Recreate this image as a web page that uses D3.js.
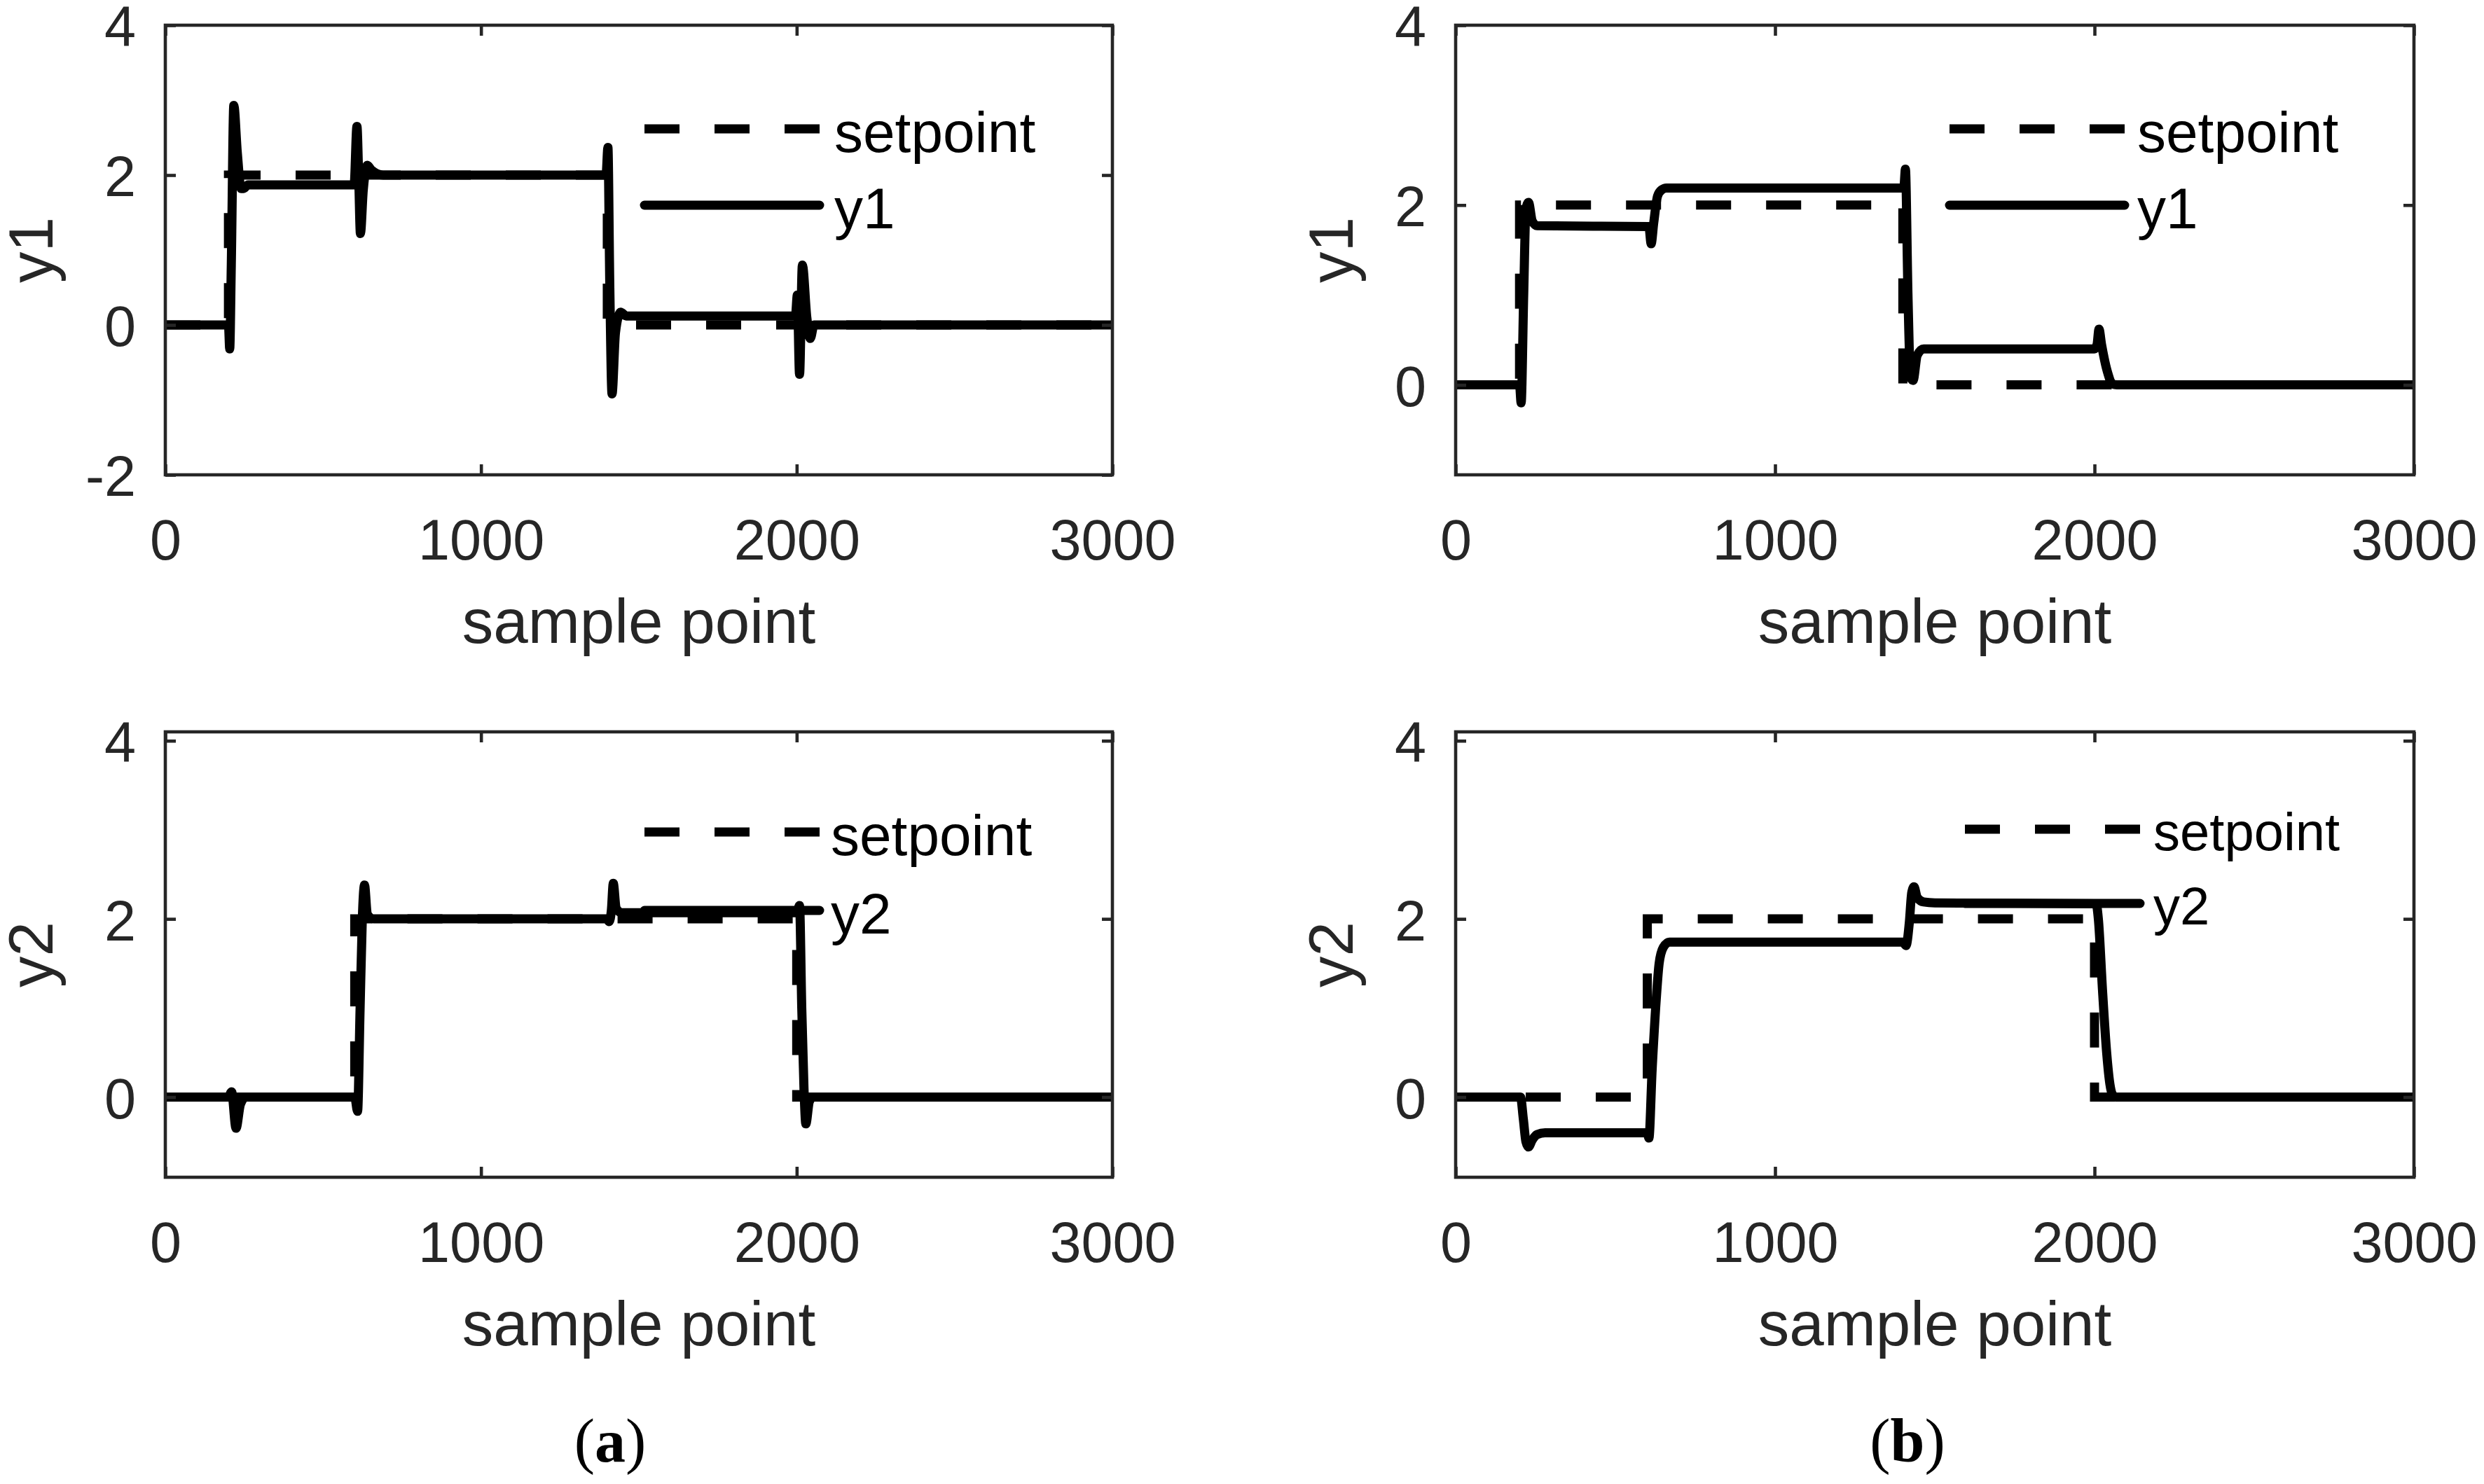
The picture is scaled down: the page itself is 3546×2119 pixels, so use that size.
<!DOCTYPE html>
<html lang="en">
  <head>
    <meta charset="utf-8" />
    <title>Setpoint tracking: y1 and y2, cases (a) and (b)</title>
    <script src="https://cdnjs.cloudflare.com/ajax/libs/d3/7.8.5/d3.min.js"></script>
    <style type="text/css">
      body {
        margin: 0;
        background: #fff;
      }

      .tick text {
        font-family: 'Liberation Sans', Arial, Helvetica, sans-serif;
        fill: #262626;
      }

      .tick line {
        stroke: #262626;
        stroke-width: 4.6;
      }

      .frame {
        fill: none;
        stroke: #262626;
        stroke-width: 4.6;
      }

      .label {
        font-family: 'Liberation Sans', Arial, Helvetica, sans-serif;
        fill: #262626;
      }

      .legend text {
        font-family: 'Liberation Sans', Arial, Helvetica, sans-serif;
        fill: #000;
      }

      .setpoint {
        fill: none;
        stroke: #000;
        stroke-width: 13;
        stroke-dasharray: 50, 50;
      }

      .output {
        fill: none;
        stroke: #000;
        stroke-width: 13;
        stroke-linejoin: round;
        stroke-linecap: round;
      }

      .caption {
        font-family: 'Liberation Serif', 'Times New Roman', serif;
        fill: #000;
      }
    </style>
  </head>

  <body>
    <script>
      // ---- data ----
      const xTicks = [0, 1000, 2000, 3000];
      const yTicksWide = [-2, 0, 2, 4];
      const yTicksNarrow = [0, 2, 4];

      // setpoints (same in both cases)
      const spSample1 = [0, 200, 200, 1400, 1400, 3000];
      const spValue1 = [0, 0, 2, 2, 0, 0];
      const spSample2 = [0, 600, 600, 2000, 2000, 3000];
      const spValue2 = [0, 0, 2, 2, 0, 0];

      // case (a), y1
      const y1aSample = [0, 200, 204, 209, 217, 228, 240, 248, 262, 598, 607, 613, 618, 627, 640, 652, 690,
        1396, 1402, 1408, 1415, 1426, 1442, 1460, 1996, 2002, 2009, 2018, 2032, 2043, 2055, 3000];
      const y1aValue = [0, 0, -0.32, 0.8, 2.93, 2.3, 1.82, 1.82, 1.87, 1.87, 2.65, 1.9, 1.22, 1.8, 2.13, 2.07, 2.0,
        2.0, 2.37, 0.5, -0.92, -0.1, 0.17, 0.12, 0.12, 0.4, -0.66, 0.8, 0.1, -0.18, 0.0, 0.0];

      // case (a), y2
      const y2aSample = [0, 200, 210, 224, 238, 255, 600, 609, 617, 624, 631, 640, 660,
        1398, 1406, 1413, 1419, 1428, 1445, 2000, 2009, 2016, 2023, 2029, 2040, 2052, 3000];
      const y2aValue = [0, 0, 0.06, -0.35, -0.08, 0, 0, -0.16, 1.0, 2.0, 2.38, 2.05, 2.0,
        2.0, 1.97, 2.1, 2.4, 2.12, 2.07, 2.07, 2.15, 1.0, 0.1, -0.3, -0.05, 0, 0];

      // case (b), y1
      const y1bSample = [0, 200, 205, 213, 220, 228, 240, 255, 605, 612, 620, 632, 645, 660,
        1403, 1408, 1416, 1424, 1432, 1445, 1465, 2000, 2008, 2014, 2022, 2040, 2056, 2070, 3000];
      const y1bValue = [0, 0, -0.2, 1.0, 1.95, 2.03, 1.82, 1.77, 1.76, 1.57, 1.8, 2.1, 2.17, 2.19,
        2.19, 2.4, 1.0, 0.08, 0.05, 0.33, 0.4, 0.4, 0.45, 0.62, 0.45, 0.15, 0.01, 0, 0];

      // case (b), y2
      const y2bSample = [0, 203, 212, 220, 228, 240, 255, 280, 600, 605, 615, 628, 637, 650, 669,
        1400, 1410, 1420, 1428, 1435, 1445, 1465, 1500, 2005, 2012, 2025, 2038, 2048, 2056, 2066, 3000];
      const y2bValue = [0, 0, -0.25, -0.5, -0.56, -0.48, -0.42, -0.4, -0.4, -0.46, 0.3, 1.1, 1.5, 1.68, 1.74,
        1.74, 1.70, 1.95, 2.30, 2.36, 2.24, 2.19, 2.18, 2.17, 2.0, 1.2, 0.5, 0.15, 0.03, 0, 0];

      // ---- layout ----
      const width = 3546;
      const height = 2119;
      const tickFont = 81;
      const labelFont = 89;

      const panels = [
        {
          left: 236, right: 1588, top: 36, bottom: 678,
          yDomain: [-2, 4], yTicks: yTicksWide, ylabel: 'y1', ylabelX: 75,
          sp: [spSample1, spValue1], out: [y1aSample, y1aValue],
          legend: {x0: 920, x1: 1170, rows: [184, 293], textX: 1191, font: 82}
        },
        {
          left: 2078, right: 3446, top: 36, bottom: 678,
          yDomain: [-1, 4], yTicks: yTicksNarrow, ylabel: 'y1', ylabelX: 1931,
          sp: [spSample1, spValue1], out: [y1bSample, y1bValue],
          legend: {x0: 2783, x1: 3033, rows: [184, 293], textX: 3051, font: 82}
        },
        {
          left: 236, right: 1588, top: 1045, bottom: 1681,
          yDomain: [-0.9, 4.1], yTicks: yTicksNarrow, ylabel: 'y2', ylabelX: 75,
          sp: [spSample2, spValue2], out: [y2aSample, y2aValue],
          legend: {x0: 920, x1: 1170, rows: [1188, 1300], textX: 1186, font: 82}
        },
        {
          left: 2078, right: 3446, top: 1045, bottom: 1681,
          yDomain: [-0.9, 4.1], yTicks: yTicksNarrow, ylabel: 'y2', ylabelX: 1931,
          sp: [spSample2, spValue2], out: [y2bSample, y2bValue],
          legend: {x0: 2805, x1: 3055, rows: [1184, 1290], textX: 3074, font: 76}
        }
      ];

      const svg = d3.select('body')
        .append('svg')
        .attr('width', width)
        .attr('height', height)
        .attr('viewBox', [0, 0, width, height]);

      svg.append('rect')
        .attr('width', width)
        .attr('height', height)
        .attr('fill', '#fff');

      const noDomain = g => g.select('.domain').remove();

      panels.forEach((p, i) => {
        const x = d3.scaleLinear().domain([0, 3000]).range([p.left, p.right]);
        const y = d3.scaleLinear().domain(p.yDomain).range([p.bottom, p.top]);

        const g = svg.append('g');

        // data lines, clipped to the box
        const clipId = `clip${i}`;
        g.append('clipPath').attr('id', clipId)
          .append('rect')
          .attr('x', p.left).attr('y', p.top)
          .attr('width', p.right - p.left).attr('height', p.bottom - p.top);

        const spLine = d3.line().x(d => x(d[0])).y(d => y(d[1]));
        const outLine = d3.line().x(d => x(d[0])).y(d => y(d[1])).curve(d3.curveMonotoneX);

        const plot = g.append('g').attr('clip-path', `url(#${clipId})`);
        plot.append('path')
          .attr('class', 'setpoint')
          .attr('d', spLine(d3.zip(p.sp[0], p.sp[1])));
        plot.append('path')
          .attr('class', 'output')
          .attr('d', outLine(d3.zip(p.out[0], p.out[1])));

        // axes: ticks on all four sides, pointing inward
        g.append('g')
          .attr('transform', `translate(0, ${p.bottom})`)
          .call(d3.axisBottom(x).tickValues(xTicks).tickFormat(d => String(d))
            .tickSize(-15).tickPadding(63))
          .call(noDomain)
          .call(a => a.selectAll('text').attr('font-size', tickFont));

        g.append('g')
          .attr('transform', `translate(0, ${p.top})`)
          .call(d3.axisTop(x).tickValues(xTicks).tickFormat('').tickSize(-15))
          .call(noDomain);

        g.append('g')
          .attr('transform', `translate(${p.left}, 0)`)
          .call(d3.axisLeft(y).tickValues(p.yTicks).tickFormat(d => String(d))
            .tickSize(-15).tickPadding(42))
          .call(noDomain)
          .call(a => a.selectAll('text').attr('font-size', tickFont).attr('dy', '0.37em'));

        g.append('g')
          .attr('transform', `translate(${p.right}, 0)`)
          .call(d3.axisRight(y).tickValues(p.yTicks).tickFormat('').tickSize(-15))
          .call(noDomain);

        g.append('rect')
          .attr('class', 'frame')
          .attr('x', p.left).attr('y', p.top)
          .attr('width', p.right - p.left).attr('height', p.bottom - p.top);

        // axis labels
        g.append('text')
          .attr('class', 'label')
          .attr('x', (p.left + p.right) / 2)
          .attr('y', p.bottom + 240)
          .attr('text-anchor', 'middle')
          .attr('font-size', labelFont)
          .text('sample point');

        g.append('text')
          .attr('class', 'label')
          .attr('transform', `translate(${p.ylabelX}, ${(p.top + p.bottom) / 2}) rotate(-90)`)
          .attr('text-anchor', 'middle')
          .attr('font-size', labelFont)
          .text(p.ylabel);

        // legend (no box)
        const lg = g.append('g').attr('class', 'legend');
        const names = ['setpoint', p.ylabel];
        names.forEach((name, k) => {
          lg.append('line')
            .attr('class', k === 0 ? 'setpoint' : 'output')
            .attr('stroke-linecap', 'butt')
            .attr('x1', p.legend.x0).attr('x2', p.legend.x1)
            .attr('y1', p.legend.rows[k]).attr('y2', p.legend.rows[k]);
          lg.append('text')
            .attr('x', p.legend.textX)
            .attr('y', p.legend.rows[k])
            .attr('dy', '0.4em')
            .attr('font-size', p.legend.font)
            .text(name);
        });
      });

      // sub-figure captions
      const captions = [['a', 871], ['b', 2723]];
      captions.forEach(([letter, cx]) => {
        const t = svg.append('text')
          .attr('class', 'caption')
          .attr('x', cx)
          .attr('y', 2087)
          .attr('text-anchor', 'middle')
          .attr('font-size', 88);
        t.append('tspan').text('(');
        t.append('tspan').attr('font-weight', 'bold').text(letter);
        t.append('tspan').text(')');
      });
    </script>
  </body>
</html>
